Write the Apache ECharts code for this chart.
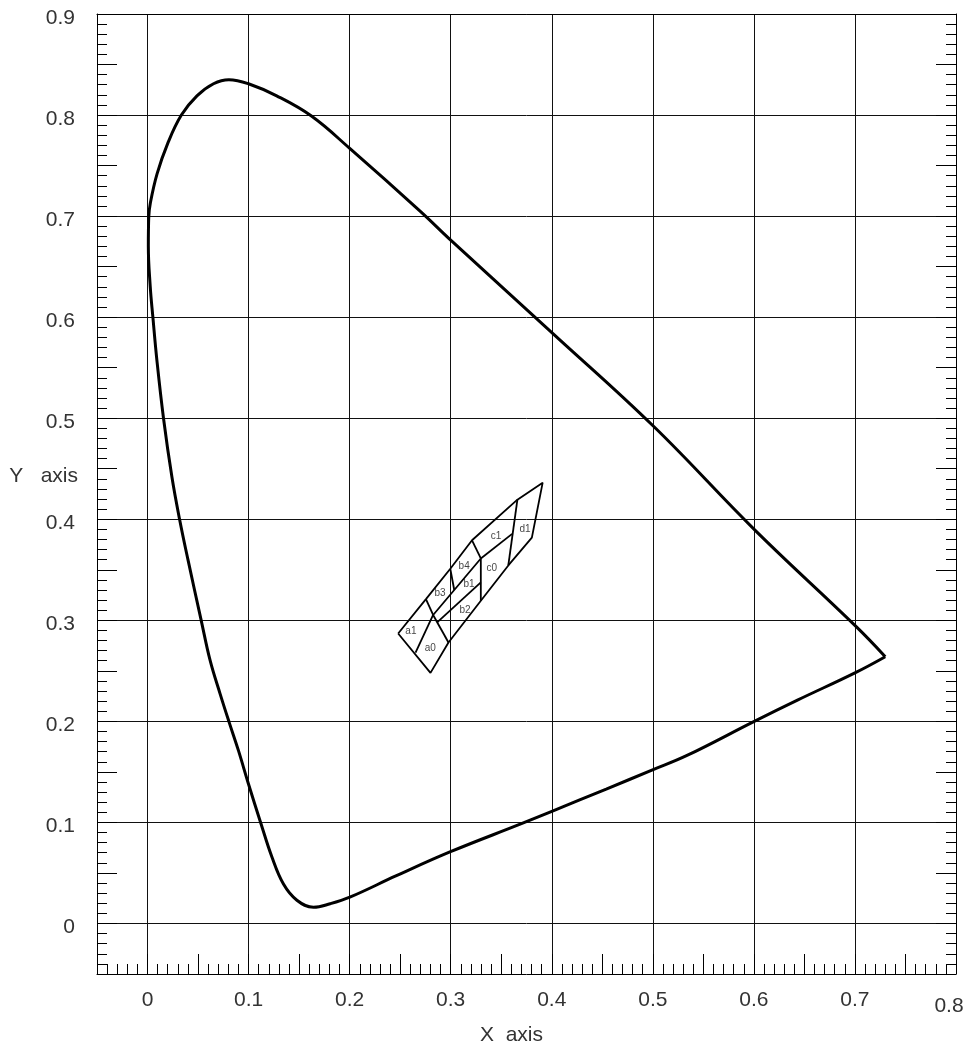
<!DOCTYPE html>
<html>
<head>
  <meta charset="utf-8">
  <title>CIE xy</title>
  <script src="https://cdn.jsdelivr.net/npm/echarts@6/dist/echarts.min.js"></script>
</head>
<body style="margin:0;background:#fff">
  <div id="chart" style="width:972px;height:1050px;"></div>
  <script>
    // spectral locus (starts and ends at the red corner)
    const locusX = [0.730, 0.7015, 0.6013, 0.5007, 0.4009, 0.3003, 0.2697, 0.2001, 0.1622, 0.1278,
      0.0999, 0.0805, 0.0653, 0.0489, 0.0335, 0.0200, 0.0095, 0.0028, 0.0012, 0.0008,
      0.0027, 0.0053, 0.0093, 0.0158, 0.0241, 0.0317, 0.0400, 0.0531, 0.062, 0.0719,
      0.0808, 0.09, 0.0999, 0.1122, 0.123, 0.1345, 0.1478, 0.1642, 0.1807, 0.2002,
      0.2457, 0.2998, 0.3706, 0.4001, 0.4539, 0.4997, 0.5333, 0.6004, 0.6431, 0.70, 0.730];
    const locusY = [0.264, 0.2935, 0.389, 0.492, 0.584, 0.676, 0.705, 0.767, 0.799, 0.819,
      0.831, 0.835, 0.831, 0.819, 0.800, 0.772, 0.742, 0.713, 0.699, 0.670,
      0.630, 0.600, 0.557, 0.500, 0.442, 0.400, 0.360, 0.300, 0.260, 0.227,
      0.199, 0.171, 0.138, 0.099, 0.066, 0.039, 0.023, 0.016, 0.0195, 0.026,
      0.047, 0.071, 0.099, 0.111, 0.133, 0.152, 0.166, 0.200, 0.221, 0.248, 0.264];

    // bin outline and dividers, each a polyline
    const binEdges = [
      [[0.248, 0.287], [0.2755, 0.321], [0.2996, 0.351], [0.3211, 0.3792], [0.366, 0.4194], [0.391, 0.4362],
       [0.3803, 0.3818], [0.357, 0.3543], [0.3298, 0.3193], [0.2978, 0.278], [0.280, 0.248], [0.248, 0.287]],
      [[0.2755, 0.321], [0.2826, 0.3053]],
      [[0.2826, 0.3053], [0.2652, 0.268]],
      [[0.2826, 0.3053], [0.2978, 0.278]],
      [[0.2826, 0.3053], [0.3035, 0.330], [0.3298, 0.3612]],
      [[0.2996, 0.351], [0.3035, 0.330]],
      [[0.3211, 0.3792], [0.3298, 0.3612]],
      [[0.3298, 0.3612], [0.3298, 0.3193]],
      [[0.2866, 0.298], [0.3298, 0.3375]],
      [[0.3298, 0.3612], [0.3608, 0.3855]],
      [[0.366, 0.4194], [0.357, 0.3543]]
    ];
    const binNames = ['a1', 'a0', 'b3', 'b4', 'b1', 'b2', 'c0', 'c1', 'd1'];
    const binLabelX = [0.2606, 0.2797, 0.2895, 0.3133, 0.3182, 0.3142, 0.3407, 0.3449, 0.3736];
    const binLabelY = [0.2894, 0.2720, 0.3267, 0.3531, 0.3360, 0.3103, 0.3514, 0.3832, 0.3898];

    const xTickLabels = ['0', '0.1', '0.2', '0.3', '0.4', '0.5', '0.6', '0.7', '0.8'];
    const yTickLabels = ['0', '0.1', '0.2', '0.3', '0.4', '0.5', '0.6', '0.7', '0.8', '0.9'];

    const labelFont = {
      fontFamily: 'Liberation Sans',
      fontSize: 21,
      color: '#333'
    };

    function tickText(list) {
      return function (v) {
        let s = String(Math.round(v * 100) / 100);
        if (list.indexOf(s) < 0) return '';
        if (s === list[list.length - 1] && list === xTickLabels) return '{e|' + s + '}';
        return s;
      };
    }

    const myChart = echarts.init(document.getElementById('chart'));

    let series = [{
      type: 'line',
      data: locusX.map(function (x, i) { return [x, locusY[i]]; }),
      smooth: 0.4,
      symbol: 'none',
      lineStyle: { color: '#000', width: 3 },
      z: 5
    }];
    for (let e of binEdges) {
      series.push({
        type: 'line',
        data: e,
        symbol: 'none',
        lineStyle: { color: '#000', width: 1.8 },
        z: 4
      });
    }
    series.push({
      type: 'scatter',
      data: binNames.map(function (n, i) { return [binLabelX[i], binLabelY[i], n]; }),
      symbolSize: 1,
      itemStyle: { color: 'transparent' },
      label: {
        show: true,
        position: 'inside',
        formatter: function (p) { return p.data[2]; },
        fontFamily: 'Liberation Sans',
        fontSize: 10,
        color: '#111'
      },
      z: 6
    });

    const gridColors = ['rgba(0,0,0,0)', '#111'];
    const frameLine = { show: true, onZero: false, lineStyle: { color: '#000', width: 1 } };

    let option = {
      animation: false,
      backgroundColor: '#fff',
      grid: { left: 97, right: 16, top: 14, bottom: 76, containLabel: false, outerBoundsMode: 'none' },
      xAxis: [{
        type: 'value',
        position: 'bottom',
        min: -0.05,
        max: 0.8,
        interval: 0.05,
        name: 'X  axis',
        nameLocation: 'middle',
        nameGap: 51,
        nameMoveOverlap: false,
        nameTextStyle: Object.assign({}, labelFont, { padding: [0, 30, 0, 0] }),
        axisLine: frameLine,
        axisTick: { show: true, inside: true, length: 20, lineStyle: { color: '#000' } },
        minorTick: { show: true, splitNumber: 5, length: 10, lineStyle: { color: '#000' } },
        splitLine: { show: true, lineStyle: { color: gridColors, width: 1 } },
        axisLabel: Object.assign({}, labelFont, {
          margin: 16,
          formatter: tickText(xTickLabels),
          rich: { e: Object.assign({}, labelFont, { padding: [6, 14, 0, 0] }) }
        })
      }, {
        type: 'value',
        position: 'top',
        min: -0.05,
        max: 0.8,
        interval: 0.05,
        axisLine: frameLine,
        axisTick: { show: false },
        axisLabel: { show: false },
        splitLine: { show: false }
      }],
      yAxis: [{
        type: 'value',
        position: 'left',
        min: -0.05,
        max: 0.9,
        interval: 0.05,
        name: 'Y   axis',
        nameLocation: 'middle',
        nameRotate: 0,
        nameGap: 19,
        nameMoveOverlap: false,
        nameTextStyle: Object.assign({}, labelFont, { verticalAlign: 'bottom', lineHeight: 36 }),
        axisLine: frameLine,
        axisTick: { show: true, inside: true, length: 20, lineStyle: { color: '#000' } },
        minorTick: { show: true, splitNumber: 5, length: 10, lineStyle: { color: '#000' } },
        splitLine: { show: true, lineStyle: { color: gridColors, width: 1 } },
        axisLabel: Object.assign({}, labelFont, {
          margin: 22,
          verticalAlign: 'top',
          lineHeight: 8,
          formatter: tickText(yTickLabels)
        })
      }, {
        type: 'value',
        position: 'right',
        min: -0.05,
        max: 0.9,
        interval: 0.05,
        axisLine: frameLine,
        axisTick: { show: true, inside: true, length: 20, lineStyle: { color: '#000' } },
        minorTick: { show: true, splitNumber: 5, length: 10, lineStyle: { color: '#000' } },
        axisLabel: { show: false },
        splitLine: { show: false }
      }],
      series: series
    };
    myChart.setOption(option);
  </script>
</body>
</html>
